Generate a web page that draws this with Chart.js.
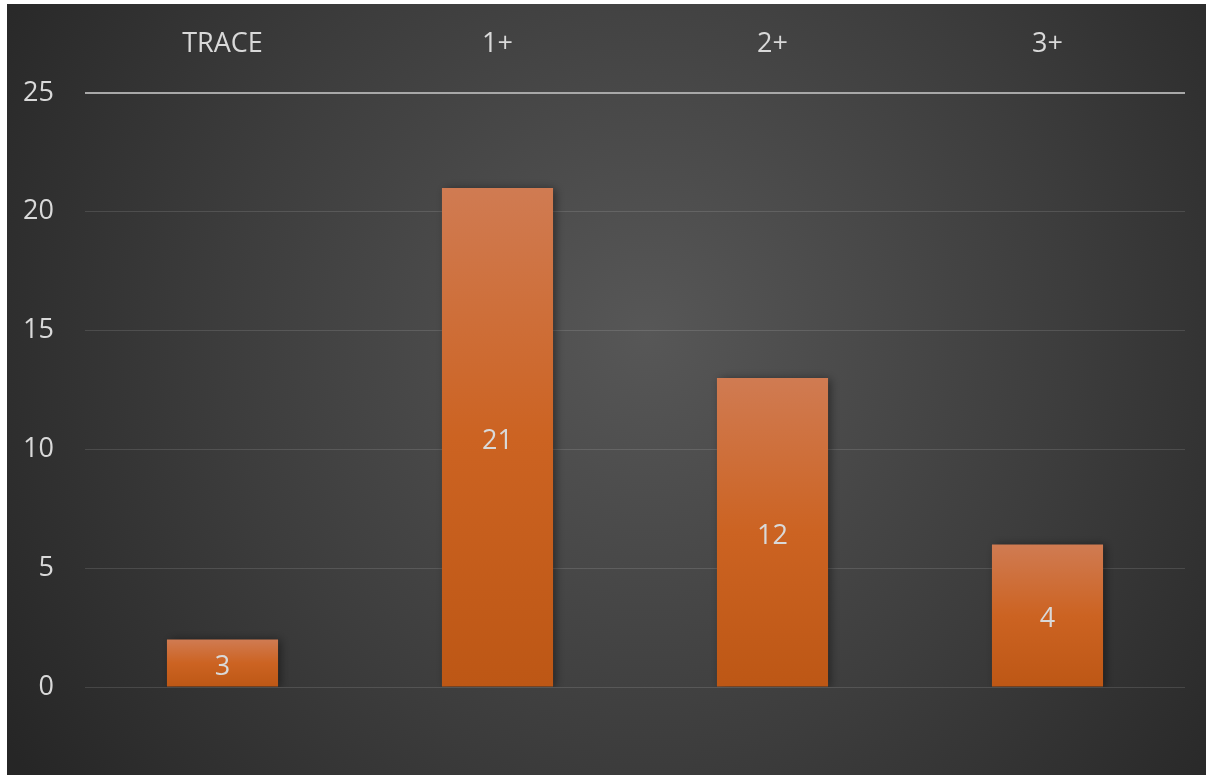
<!DOCTYPE html>
<html>
<head>
<meta charset="utf-8">
<script src="https://cdn.jsdelivr.net/npm/chart.js@4"></script>
<style>
  html, body { margin: 0; padding: 0; background: #ffffff; }
  #wrap { position: absolute; left: 7px; top: 4px; width: 1199px; height: 771px; }
</style>
</head>
<body>
<div id="wrap"><canvas id="chart" width="1199" height="771"></canvas></div>
<script>
// data
const categories = ["TRACE", "1+", "2+", "3+"];
const barValues = [2, 21, 13, 6];
const barLabels = ["3", "21", "12", "4"]; // the labels printed inside bars
const yTicks = [0, 5, 10, 15, 20, 25];

const textColor = "#d9d9d9";
const fontFamily = "'Open Sans', 'Noto Sans', sans-serif";

// radial background like the slide
const bgPlugin = {
  id: "bg",
  beforeDraw(chart) {
    const c = chart.ctx;
    const w = chart.width, h = chart.height;
    const g = c.createRadialGradient(640, 330, 0, 640, 330, 760);
    g.addColorStop(0, "#575757");
    g.addColorStop(0.55, "#3d3d3d");
    g.addColorStop(1, "#262626");
    c.save();
    c.fillStyle = g;
    c.fillRect(0, 0, w, h);
    c.restore();
  }
};

// soft shadow behind bars
const shadowPlugin = {
  id: "shadow",
  beforeDatasetsDraw(chart) {
    const c = chart.ctx;
    c.save();
    c.shadowColor = "rgba(0,0,0,0.45)";
    c.shadowBlur = 9;
    c.shadowOffsetX = 3;
    c.shadowOffsetY = 1;
  },
  afterDatasetsDraw(chart) {
    chart.ctx.restore();
  }
};

// text labels in the middle of each bar
const labelPlugin = {
  id: "barText",
  afterDatasetsDraw(chart) {
    const c = chart.ctx;
    const meta = chart.getDatasetMeta(0);
    c.save();
    c.fillStyle = textColor;
    c.font = "27px " + fontFamily;
    c.textAlign = "center";
    c.textBaseline = "middle";
    meta.data.forEach((bar, i) => {
      const mid = (bar.y + bar.base) / 2;
      c.fillText(barLabels[i], bar.x, mid + 4);
    });
    c.restore();
  }
};

const ctx = document.getElementById("chart").getContext("2d");
new Chart(ctx, {
  type: "bar",
  data: {
    labels: categories,
    datasets: [{
      data: barValues,
      backgroundColor: function (context) {
        const chart = context.chart;
        const y = chart.scales.y;
        if (!chart.chartArea || !y) return "#c8601f";
        const top = y.getPixelForValue(context.parsed.y);
        const bottom = y.getPixelForValue(0);
        const g = chart.ctx.createLinearGradient(0, top, 0, bottom);
        g.addColorStop(0, "#d07b52");
        g.addColorStop(0.5, "#cc6322");
        g.addColorStop(1, "#bd5715");
        return g;
      },
      borderWidth: 0,
      categoryPercentage: 1,
      barPercentage: 0.404
    }]
  },
  options: {
    responsive: false,
    animation: false,
    layout: { padding: { left: 0, right: 21, top: 0, bottom: 88 } },
    plugins: {
      legend: { display: false },
      tooltip: { enabled: false }
    },
    scales: {
      x: {
        position: "top",
        grid: { display: false, drawTicks: false },
        border: { display: false },
        ticks: {
          color: textColor,
          font: { family: fontFamily, size: 27 },
          padding: 32
        },
        afterFit(scale) { scale.height = 89; }
      },
      y: {
        min: 0,
        max: 25,
        afterBuildTicks(scale) { scale.ticks = yTicks.map(v => ({ value: v })); },
        grid: {
          drawTicks: false,
          color: (c) => c.tick && c.tick.value === 25 ? "#a8a8a8" : "rgba(255,255,255,0.12)",
          lineWidth: (c) => c.tick && c.tick.value === 25 ? 2 : 1
        },
        border: { display: false },
        ticks: {
          color: textColor,
          font: { family: fontFamily, size: 27 },
          padding: 31
        },
        afterFit(scale) { scale.width = 78; }
      }
    }
  },
  plugins: [bgPlugin, shadowPlugin, labelPlugin]
});
</script>
</body>
</html>
